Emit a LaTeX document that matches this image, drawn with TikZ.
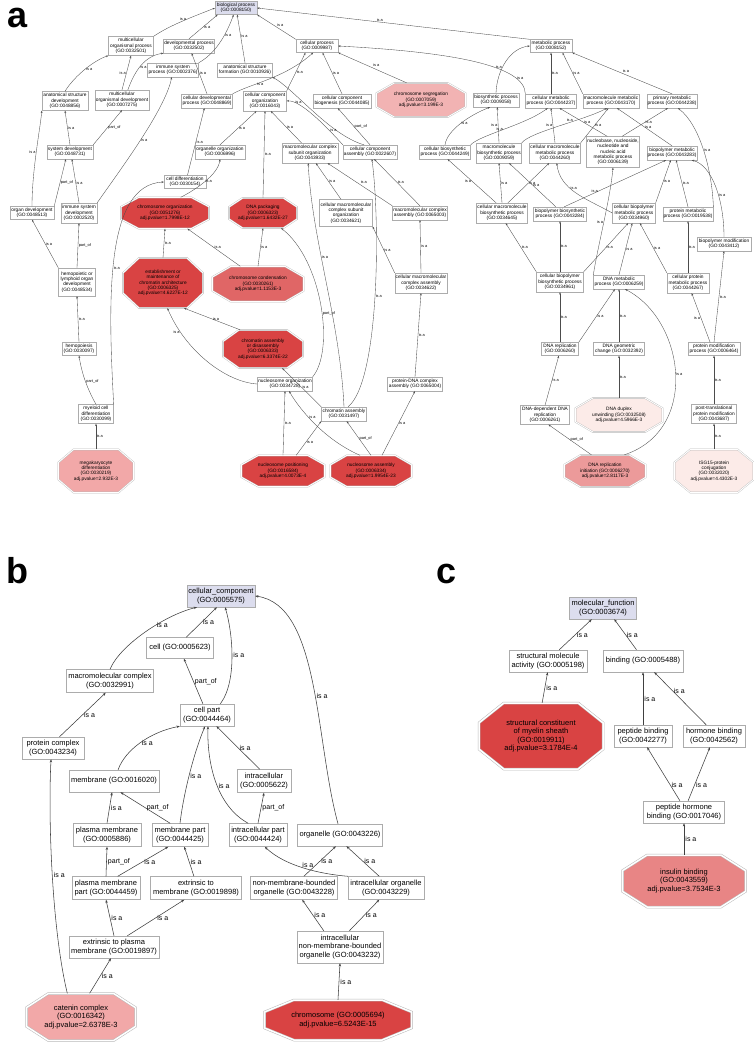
\documentclass[tikz,border=0pt]{standalone}
\usepackage{fontspec}
\setmainfont{Liberation Sans}
\usetikzlibrary{arrows.meta}
\definecolor{lav}{HTML}{DCDDEE}
\definecolor{redA}{HTML}{D94343}
\definecolor{redB}{HTML}{E06666}
\definecolor{pinkA}{HTML}{F2B3B3}
\definecolor{pinkB}{HTML}{EC9A9A}
\definecolor{pinkC}{HTML}{FCEBE8}
\definecolor{pinkD}{HTML}{F2A8A8}
\definecolor{pinkE}{HTML}{E88585}
\tikzset{
 abox/.style={draw=gray!65, fill=white, line width=0.35pt, align=center, inner sep=0.8pt, font=\fontsize{4.8}{5.3}\selectfont},
 aroot/.style={abox, fill=lav},
 aoct/.style={align=center, inner sep=0pt, font=\fontsize{4.8}{5.3}\selectfont},
 octa/.style={draw=gray!55, line width=0.35pt, double=white, double distance=0.9pt},
 bbox/.style={draw=gray!65, fill=white, line width=0.45pt, align=center, inner sep=1pt, font=\fontsize{7.5}{8.5}\selectfont},
 broot/.style={bbox, fill=lav},
 boct/.style={align=center, inner sep=0pt, font=\fontsize{7.5}{8.5}\selectfont},
 octb/.style={draw=gray!55, line width=0.5pt, double=white, double distance=1.5pt},
 ae/.style={draw=black!70, line width=0.35pt, -{Stealth[length=2.4pt,width=1.8pt]}},
 be/.style={draw=black!75, line width=0.55pt, -{Stealth[length=3.2pt,width=2.4pt]}},
 al/.style={font=\fontsize{3.9}{4}\selectfont, inner sep=0.6pt},
 bl/.style={font=\fontsize{7}{7}\selectfont, inner sep=1.2pt},
 plab/.style={font=\fontsize{36}{36}\selectfont\bfseries, inner sep=0pt}
}
\newcommand\ABox[6]{\node[abox,minimum width=#4pt,minimum height=#5pt] (#1) at (#2,#3) {#6};}
\newcommand\BBox[6]{\node[bbox,minimum width=#4pt,minimum height=#5pt] (#1) at (#2,#3) {#6};}
\newcommand\AOct[7]{%
 \path[octa,fill=#6] ({#2-0.3*#4},{#3-0.5*#5}) -- ({#2+0.3*#4},{#3-0.5*#5}) -- ({#2+0.5*#4},{#3-0.2*#5}) -- ({#2+0.5*#4},{#3+0.2*#5}) -- ({#2+0.3*#4},{#3+0.5*#5}) -- ({#2-0.3*#4},{#3+0.5*#5}) -- ({#2-0.5*#4},{#3+0.2*#5}) -- ({#2-0.5*#4},{#3-0.2*#5}) -- cycle;
 \node[aoct,minimum width=#4pt,minimum height=#5pt] (#1) at (#2,#3) {#7};}
\newcommand\BOct[7]{%
 \path[octb,fill=#6] ({#2-0.3*#4},{#3-0.5*#5}) -- ({#2+0.3*#4},{#3-0.5*#5}) -- ({#2+0.5*#4},{#3-0.2*#5}) -- ({#2+0.5*#4},{#3+0.2*#5}) -- ({#2+0.3*#4},{#3+0.5*#5}) -- ({#2-0.3*#4},{#3+0.5*#5}) -- ({#2-0.5*#4},{#3+0.2*#5}) -- ({#2-0.5*#4},{#3-0.2*#5}) -- cycle;
 \node[boct,minimum width=#4pt,minimum height=#5pt] (#1) at (#2,#3) {#7};}
\begin{document}
\begin{tikzpicture}[x=1pt,y=-1pt]
\useasboundingbox (0,0) rectangle (754,1050);
\fill[white] (0,0) rectangle (754,1050);
% ---------------- panel labels
\node[plab] (la) at (18,18) {a};
\node[plab] (lb) at (17,571) {b};
\node[plab] (lc) at (447,574) {c};
% ---------------- panel a nodes
\node[aroot,minimum width=42pt,minimum height=13pt] (bp) at (236,8) {biological process\\(GO:0008150)};
\ABox{mop}{131}{46}{45}{19}{multicellular\\organismal process\\(GO:0032501)}
\ABox{dp}{189}{46}{51}{14}{developmental process\\(GO:0032502)}
\ABox{isp}{173}{70}{51}{14}{immune system\\process (GO:0002376)}
\ABox{asf}{245}{70}{55}{14}{anatomical structure\\formation (GO:0010926)}
\ABox{cp}{317}{46}{42}{13}{cellular process\\(GO:0009987)}
\ABox{mp}{551}{46}{42}{13}{metabolic process\\(GO:0008152)}
\ABox{asd}{65}{101}{46}{19}{anatomical structure\\development\\(GO:0048856)}
\ABox{mod}{122}{100}{54}{20}{multicellular\\organismal development\\(GO:0007275)}
\ABox{cdp}{207}{101}{51}{14}{cellular developmental\\process (GO:0048869)}
\ABox{cco}{265}{101}{43}{20}{cellular component\\organization\\(GO:0016043)}
\ABox{ccb}{342}{101}{58}{14}{cellular component\\biogenesis (GO:0044085)}
\AOct{cs}{421}{100}{89}{34}{pinkA}{chromosome segregation\\(GO:0007059)\\adj.pvalue=3.199E-3}
\ABox{bios}{496}{100}{46}{14}{biosynthetic process\\(GO:0009058)}
\ABox{cmp}{551}{101}{51}{14}{cellular metabolic\\process (GO:0044237)}
\ABox{mmp}{611}{101}{56}{14}{macromolecule metabolic\\process (GO:0043170)}
\ABox{pmp}{672}{101}{50}{14}{primary metabolic\\process (GO:0044238)}
\ABox{sd}{70}{152}{46}{14}{system development\\(GO:0048731)}
\ABox{oo}{220}{152}{50}{14}{organelle organization\\(GO:0006996)}
\ABox{mcso}{310}{153}{56}{20}{macromolecular complex\\subunit organization\\(GO:0043933)}
\ABox{cca}{370}{152}{54}{14}{cellular component\\assembly (GO:0022607)}
\ABox{cbp}{445}{152}{51}{14}{cellular biosynthetic\\process (GO:0044249)}
\ABox{mbp}{499}{153}{44}{20}{macromolecule\\biosynthetic process\\(GO:0009059)}
\ABox{cmmp}{555}{153}{51}{20}{cellular macromolecule\\metabolic process\\(GO:0044260)}
\ABox{nnna}{613}{152}{53}{31}{nucleobase, nucleoside,\\nucleotide and\\nucleic acid\\metabolic process\\(GO:0006139)}
\ABox{bpmp}{672}{153}{50}{14}{biopolymer metabolic\\process (GO:0043283)}
\ABox{cd}{185}{182}{42}{13}{cell differentiation\\(GO:0030154)}
\ABox{od}{32}{213}{44}{13}{organ development\\(GO:0048513)}
\ABox{isd}{79}{213}{36}{20}{immune system\\development\\(GO:0002520)}
\AOct{co}{165}{213}{88}{31}{redA}{chromosome organization\\(GO:0051276)\\adj.pvalue=1.7998E-12}
\AOct{dnap}{263}{213}{68}{30}{redA}{DNA packaging\\(GO:0006323)\\adj.pvalue=1.6432E-27}
\ABox{cmcso}{346}{213}{53}{27}{cellular macromolecular\\complex subunit\\organization\\(GO:0034621)}
\ABox{mca}{420}{213}{55}{14}{macromolecular complex\\assembly (GO:0065003)}
\ABox{cmbp}{502}{213}{50}{20}{cellular macromolecule\\biosynthetic process\\(GO:0034645)}
\ABox{bpbp}{560}{214}{53}{14}{biopolymer biosynthetic\\process (GO:0043284)}
\ABox{cbpmp}{634}{213}{43}{20}{cellular biopolymer\\metabolic process\\(GO:0034960)}
\ABox{prmp}{688}{214}{50}{14}{protein metabolic\\process (GO:0019538)}
\ABox{bm}{724}{244}{54}{14}{biopolymer modification\\(GO:0043412)}
\AOct{emca}{163}{283}{80}{50}{redA}{establishment or\\maintenance of\\chromatin architecture\\(GO:0006325)\\adj.pvalue=4.6227E-12}
\AOct{ccond}{258}{284}{91}{35}{redB}{chromosome condensation\\(GO:0030261)\\adj.pvalue=1.1153E-3}
\ABox{hlod}{77}{282}{37}{28}{hemopoietic or\\lymphoid organ\\development\\(GO:0048534)}
\ABox{cmca}{421}{283}{52}{20}{cellular macromolecular\\complex assembly\\(GO:0034622)}
\ABox{cbbp}{560}{282}{47}{20}{cellular biopolymer\\biosynthetic process\\(GO:0034961)}
\ABox{dnamp}{619}{282}{51}{14}{DNA metabolic\\process (GO:0006259)}
\ABox{cpmp}{688}{283}{42}{20}{cellular protein\\metabolic process\\(GO:0044267)}
\AOct{cad}{263}{349}{80}{38}{redA}{chromatin assembly\\or disassembly\\(GO:0006333)\\adj.pvalue=6.3374E-22}
\ABox{hem}{79}{349}{34}{13}{hemopoiesis\\(GO:0030097)}
\ABox{dnar}{560}{349}{37}{13}{DNA replication\\(GO:0006260)}
\ABox{dnagc}{619}{349}{51}{13}{DNA geometric\\change (GO:0032392)}
\ABox{prmod}{714}{349}{52}{13}{protein modification\\process (GO:0006464)}
\ABox{no}{285}{384}{55}{14}{nucleosome organization\\(GO:0034728)}
\ABox{pdca}{415}{384}{55}{14}{protein-DNA complex\\assembly (GO:0065004)}
\ABox{mcd}{96}{414}{35}{19}{myeloid cell\\differentiation\\(GO:0030099)}
\ABox{ca}{344}{414}{45}{14}{chromatin assembly\\(GO:0031497)}
\ABox{ddr}{545}{415}{49}{19}{DNA-dependent DNA\\replication\\(GO:0006261)}
\AOct{ddu}{619}{415}{87}{34}{pinkC}{DNA duplex\\unwinding (GO:0032508)\\adj.pvalue=4.5966E-3}
\ABox{ptpm}{714}{414}{45}{19}{post-translational\\protein modification\\(GO:0043687)}
\AOct{mkd}{96}{471}{75}{43}{pinkD}{megakaryocyte\\differentiation\\(GO:0030219)\\adj.pvalue=2.932E-3}
\AOct{np}{283}{471}{83}{31}{redA}{nucleosome positioning\\(GO:0016584)\\adj.pvalue=4.0073E-4}
\AOct{na}{371}{471}{81}{31}{redA}{nucleosome assembly\\(GO:0006334)\\adj.pvalue=1.9954E-23}
\AOct{dri}{605}{471}{81}{32}{pinkB}{DNA replication\\initiation (GO:0006270)\\adj.pvalue=2.8117E-3}
\AOct{isg}{714}{471}{79}{43}{pinkC}{ISG15-protein\\conjugation\\(GO:0032020)\\adj.pvalue=4.4302E-3}
% ---------------- panel a edges
\draw[ae] (mop.north east) .. controls (170,25) and (195,16) .. (bp.west) node[al,pos=.5,above]{is a};
\draw[ae] (dp.north) -- (bp.-160) node[al,pos=.5,right]{is a};
\draw[ae] (isp.north east) .. controls (218,52) and (228,30) .. (bp.-110) node[al,pos=.6,right]{is a};
\draw[ae] (asf.north) -- (bp.-80) node[al,pos=.55,right]{is a};
\draw[ae] (cp.north west) -- (bp.south east) node[al,pos=.5,above right]{is a};
\draw[ae] (mp.north west) -- (bp.east) node[al,pos=.55,above]{is a};
\draw[ae] (asd.north) .. controls (75,75) and (95,60) .. (mop.south west) node[al,pos=.5,right]{is a};
\draw[ae] (mod.north) -- (mop.south) node[al,pos=.5,left]{is a};
\draw[ae] (mod.60) .. controls (135,70) and (145,56) .. (dp.south west) node[al,pos=.45,right]{is a};
\draw[ae] (cdp.north) -- (dp.-70) node[al,pos=.5,right]{is a};
\draw[ae] (sd.north) -- (asd.south) node[al,pos=.5,right]{is a};
\draw[ae] (sd.north east) -- (mod.south) node[al,pos=.5,right]{part\_of};
\draw[ae] (od.north) .. controls (32,170) and (40,130) .. (asd.south west) node[al,pos=.5,left]{is a};
\draw[ae] (od.north east) -- (sd.-120) node[al,pos=.5,right]{part\_of};
\draw[ae] (isd.north) -- (sd.-75) node[al,pos=.45,right]{is a};
\draw[ae] (isd.north east) .. controls (120,170) and (165,110) .. (isp.-100) node[al,pos=.5,right]{is a};
\draw[ae] (hlod.north west) -- (od.south) node[al,pos=.5,right]{is a};
\draw[ae] (hlod.north) -- (isd.south) node[al,pos=.5,right]{part\_of};
\draw[ae] (hem.north) -- (hlod.south) node[al,pos=.5,right]{is a};
\draw[ae] (mcd.north) .. controls (88,390) and (82,375) .. (hem.south) node[al,pos=.5,right]{part\_of};
\draw[ae] (mcd.north east) .. controls (108,300) and (105,185) .. (cd.west) node[al,pos=.45,right]{is a};
\draw[ae] (mkd.north) -- (mcd.south) node[al,pos=.5,right]{is a};
\draw[ae] (cd.70) -- (cdp.-110) node[al,pos=.5,right]{is a};
\draw[ae] (co.45) .. controls (195,190) and (218,175) .. (oo.south) node[al,pos=.5,right]{is a};
\draw[ae] (oo.north) -- (cco.-130) node[al,pos=.5,right]{is a};
\draw[ae] (cco.north east) -- (cp.-150) node[al,pos=.5,right]{is a};
\draw[ae] (cdp.north east) .. controls (250,84) and (285,78) .. (cp.-120) node[al,pos=.4,below]{is a};
\draw[ae] (dnap.north) -- (cco.south) node[al,pos=.5,right]{is a};
\draw[ae] (mcso.130) -- (cco.-60) node[al,pos=.5,right]{is a};
\draw[ae] (ccb.north) -- (cp.-50) node[al,pos=.5,right]{is a};
\draw[ae] (cs.130) -- (cp.south east) node[al,pos=.5,above right]{is a};
\draw[ae] (cca.north) -- (ccb.-120) node[al,pos=.5,right]{part\_of};
\draw[ae] (cca.north west) .. controls (325,125) and (300,100) .. (cco.east) node[al,pos=.75,above]{is a};
\draw[ae] (cca.130) .. controls (330,135) and (295,90) .. (asf.south east) node[al,pos=.3,below]{is a};
\draw[ae] (cmcso.110) -- (mcso.-60) node[al,pos=.5,right]{is a};
\draw[ae] (mca.north west) -- (mcso.-30) node[al,pos=.5,above right]{is a};
\draw[ae] (mca.north) -- (cca.-60) node[al,pos=.5,right]{is a};
\draw[ae] (cmca.north west) -- (cmcso.south east) node[al,pos=.5,right]{is a};
\draw[ae] (cmca.north) -- (mca.south) node[al,pos=.5,right]{is a};
\draw[ae] (pdca.north) -- (cmca.south) node[al,pos=.5,right]{is a};
\draw[ae] (na.55) -- (pdca.south) node[al,pos=.5,right]{is a};
\draw[ae] (ca.60) .. controls (380,380) and (380,220) .. (cca.-75) node[al,pos=.5,right]{is a};
\draw[ae] (ca.north) .. controls (340,320) and (312,240) .. (mcso.-100) node[al,pos=.6,right]{is a};
\draw[ae] (ca.north west) -- (cad.-45) node[al,pos=.5,right]{is a};
\draw[ae] (no.north east) .. controls (335,350) and (322,260) .. (dnap.-40) node[al,pos=.45,right]{part\_of};
\draw[ae] (np.north) -- (no.south) node[al,pos=.5,right]{is a};
\draw[ae] (na.125) .. controls (325,440) and (300,410) .. (no.-60) node[al,pos=.6,right]{is a};
\draw[ae] (np.50) -- (ca.south west) node[al,pos=.4,right]{is a};
\draw[ae] (na.north) -- (ca.-70) node[al,pos=.5,right]{part\_of};
\draw[ae] (emca.north) -- (co.south) node[al,pos=.5,right]{is a};
\draw[ae] (ccond.135) -- (co.-35) node[al,pos=.5,right]{is a};
\draw[ae] (ccond.north) -- (dnap.south) node[al,pos=.5,right]{is a};
\draw[ae] (cad.140) -- (emca.-50) node[al,pos=.5,right]{is a};
\draw[ae] (no.west) .. controls (225,382) and (185,350) .. (emca.-80) node[al,pos=.8,left]{is a};
\draw[ae] (bios.north) .. controls (497,70) and (510,48) .. (mp.west) node[al,pos=.4,left]{is a};
\draw[ae] (cmp.north west) .. controls (525,65) and (450,52) .. (cp.east) node[al,pos=.2,right]{is a};
\draw[ae] (cmp.north) -- (mp.south) node[al,pos=.5,right]{is a};
\draw[ae] (mmp.north west) -- (mp.-30) node[al,pos=.5,right]{is a};
\draw[ae] (pmp.north) -- (mp.south east) node[al,pos=.5,above right]{is a};
\draw[ae] (cbp.north) .. controls (447,130) and (470,115) .. (bios.-130) node[al,pos=.5,right]{is a};
\draw[ae] (cbp.north east) .. controls (480,135) and (525,125) .. (cmp.-115) node[al,pos=.45,above]{is a};
\draw[ae] (mbp.north) -- (bios.-80) node[al,pos=.5,left]{is a};
\draw[ae] (mbp.north east) .. controls (530,132) and (585,120) .. (mmp.-120) node[al,pos=.6,above]{is a};
\draw[ae] (cmmp.north) -- (cmp.south) node[al,pos=.5,left]{is a};
\draw[ae] (cmmp.north east) -- (mmp.-110) node[al,pos=.5,right]{is a};
\draw[ae] (nnna.110) -- (cmp.-40) node[al,pos=.5,right]{is a};
\draw[ae] (nnna.60) -- (pmp.-120) node[al,pos=.5,right]{is a};
\draw[ae] (bpmp.north) -- (mmp.-50) node[al,pos=.5,right]{is a};
\draw[ae] (prmp.north east) .. controls (712,170) and (700,125) .. (pmp.-50) node[al,pos=.5,right]{is a};
\draw[ae] (cmbp.120) -- (cbp.-70) node[al,pos=.5,left]{is a};
\draw[ae] (cmbp.north) -- (mbp.south) node[al,pos=.5,right]{is a};
\draw[ae] (cmbp.60) -- (cmmp.-120) node[al,pos=.5,right]{is a};
\draw[ae] (bpbp.120) -- (mbp.-45) node[al,pos=.5,right]{is a};
\draw[ae] (bpbp.60) -- (bpmp.-130) node[al,pos=.3,above]{is a};
\draw[ae] (cbpmp.west) .. controls (585,198) and (560,190) .. (cmmp.-80) node[al,pos=.6,right]{is a};
\draw[ae] (cbpmp.north east) -- (bpmp.-100) node[al,pos=.5,right]{is a};
\draw[ae] (dnamp.north west) .. controls (598,245) and (610,200) .. (nnna.south) node[al,pos=.5,left]{is a};
\draw[ae] (prmp.north) -- (bpmp.-60) node[al,pos=.5,right]{is a};
\draw[ae] (bm.north) .. controls (724,200) and (712,165) .. (bpmp.-20) node[al,pos=.4,right]{is a};
\draw[ae] (cbbp.north west) -- (cmbp.-70) node[al,pos=.5,right]{is a};
\draw[ae] (cbbp.north) -- (bpbp.south) node[al,pos=.5,right]{is a};
\draw[ae] (cbbp.north east) -- (cbpmp.-120) node[al,pos=.5,right]{is a};
\draw[ae] (dnamp.north) -- (cbpmp.-100) node[al,pos=.5,right]{is a};
\draw[ae] (cpmp.north west) -- (cbpmp.-60) node[al,pos=.5,right]{is a};
\draw[ae] (cpmp.north) -- (prmp.south) node[al,pos=.5,right]{is a};
\draw[ae] (prmod.north) -- (bm.south) node[al,pos=.5,right]{is a};
\draw[ae] (prmod.120) -- (cpmp.-70) node[al,pos=.5,left]{is a};
\draw[ae] (dnar.north) -- (cbbp.south) node[al,pos=.5,right]{is a};
\draw[ae] (dnar.north east) -- (dnamp.-120) node[al,pos=.5,right]{is a};
\draw[ae] (dnagc.north) -- (dnamp.south) node[al,pos=.5,right]{is a};
\draw[ae] (dri.40) .. controls (700,430) and (685,320) .. (dnamp.-50) node[al,pos=.5,right]{is a};
\draw[ae] (ddr.north) -- (dnar.-100) node[al,pos=.5,right]{is a};
\draw[ae] (ddu.north) -- (dnagc.south) node[al,pos=.5,right]{is a};
\draw[ae] (ptpm.north) -- (prmod.south) node[al,pos=.5,right]{is a};
\draw[ae] (dri.130) -- (ddr.-70) node[al,pos=.5,right]{part\_of};
\draw[ae] (isg.north) -- (ptpm.south) node[al,pos=.5,right]{is a};
% ---------------- panel b nodes
\node[broot,minimum width=68pt,minimum height=22pt] (ccomp) at (221,596) {cellular\_component\\(GO:0005575)};
\BBox{cell}{180}{648}{67}{21}{cell (GO:0005623)}
\BBox{mcx}{110}{681}{87}{23}{macromolecular complex\\(GO:0032991)}
\BBox{cpart}{207}{715}{54}{22}{cell part\\(GO:0044464)}
\BBox{pcx}{53}{748}{62}{22}{protein complex\\(GO:0043234)}
\BBox{mem}{114}{781}{90}{22}{membrane (GO:0016020)}
\BBox{ic}{264}{781}{54}{23}{intracellular\\(GO:0005622)}
\BBox{pm}{107}{835}{68}{23}{plasma membrane\\(GO:0005886)}
\BBox{mpart}{180}{835}{56}{23}{membrane part\\(GO:0044425)}
\BBox{icp}{258}{835}{58}{23}{intracellular part\\(GO:0044424)}
\BBox{org}{340}{835}{85}{22}{organelle (GO:0043226)}
\BBox{pmp2}{106}{888}{68}{23}{plasma membrane\\part (GO:0044459)}
\BBox{etm}{196}{888}{91}{23}{extrinsic to\\membrane (GO:0019898)}
\BBox{nmbo}{294}{888}{87}{23}{non-membrane-bounded\\organelle (GO:0043228)}
\BBox{ico}{386}{888}{76}{23}{intracellular organelle\\(GO:0043229)}
\BBox{etpm}{114}{947}{90}{22}{extrinsic to plasma\\membrane (GO:0019897)}
\BBox{inmbo}{340}{947}{86}{32}{intracellular\\non-membrane-bounded\\organelle (GO:0043232)}
\BOct{cat}{81}{1017}{109}{47}{pinkD}{catenin complex\\(GO:0016342)\\adj.pvalue=2.6378E-3}
\BOct{chr}{338}{1020}{147}{40}{redA}{chromosome (GO:0005694)\\adj.pvalue=6.5243E-15}
% ---------------- panel b edges
\draw[be] (cell.60) -- (ccomp.-110) node[bl,pos=.5,right]{is a};
\draw[be] (mcx.north) .. controls (120,645) and (165,615) .. (ccomp.-155) node[bl,pos=.6,right]{is a};
\draw[be] (cpart.40) .. controls (238,680) and (232,630) .. (ccomp.-70) node[bl,pos=.5,right]{is a};
\draw[be] (cpart.110) -- (cell.-70) node[bl,pos=.5,right]{part\_of};
\draw[be] (org.100) .. controls (315,740) and (320,605) .. (ccomp.east) node[bl,pos=.45,right]{is a};
\draw[be] (pcx.60) -- (mcx.-110) node[bl,pos=.5,right]{is a};
\draw[be] (mem.70) .. controls (125,750) and (150,732) .. (cpart.south west) node[bl,pos=.5,right]{is a};
\draw[be] (mpart.north) .. controls (184,790) and (195,750) .. (cpart.-100) node[bl,pos=.45,right]{is a};
\draw[be] (icp.130) .. controls (215,805) and (207,760) .. (cpart.-85) node[bl,pos=.45,right]{is a};
\draw[be] (ic.110) -- (cpart.-50) node[bl,pos=.5,right]{is a};
\draw[be] (pm.north) -- (mem.-100) node[bl,pos=.5,right]{is a};
\draw[be] (mpart.130) -- (mem.-60) node[bl,pos=.5,right]{part\_of};
\draw[be] (icp.north) -- (ic.south) node[bl,pos=.5,right]{part\_of};
\draw[be] (pmp2.north) -- (pm.south) node[bl,pos=.5,right]{part\_of};
\draw[be] (pmp2.45) -- (mpart.-135) node[bl,pos=.5,right]{is a};
\draw[be] (etm.100) -- (mpart.-70) node[bl,pos=.5,right]{is a};
\draw[be] (nmbo.50) -- (org.-110) node[bl,pos=.5,right]{is a};
\draw[be] (ico.120) -- (org.-60) node[bl,pos=.5,right]{is a};
\draw[be] (ico.north west) .. controls (320,874) and (285,866) .. (icp.-60) node[bl,pos=.45,above]{is a};
\draw[be] (etpm.north) -- (pmp2.south) node[bl,pos=.5,right]{is a};
\draw[be] (etpm.40) -- (etm.-135) node[bl,pos=.5,right]{is a};
\draw[be] (inmbo.135) -- (nmbo.-55) node[bl,pos=.5,right]{is a};
\draw[be] (inmbo.60) -- (ico.-120) node[bl,pos=.5,right]{is a};
\draw[be] (cat.70) -- (etpm.-105) node[bl,pos=.5,right]{is a};
\draw[be] (cat.120) .. controls (52,930) and (48,820) .. (pcx.-100) node[bl,pos=.5,right]{is a};
\draw[be] (chr.north) -- (inmbo.south) node[bl,pos=.5,right]{is a};
% ---------------- panel c nodes
\node[broot,minimum width=67pt,minimum height=22pt] (mf) at (603,608) {molecular\_function\\(GO:0003674)};
\BBox{sma}{548}{661}{78}{22}{structural molecule\\activity (GO:0005198)}
\BBox{bind}{643}{661}{80}{22}{binding (GO:0005488)}
\BOct{myel}{541}{736}{124}{66}{redA}{structural constituent\\of myelin sheath\\(GO:0019911)\\adj.pvalue=3.1784E-4}
\BBox{pb}{643}{736}{58}{22}{peptide binding\\(GO:0042277)}
\BBox{hb}{714}{736}{62}{22}{hormone binding\\(GO:0042562)}
\BBox{phb}{684}{812}{81}{22}{peptide hormone\\binding (GO:0017046)}
\BOct{ins}{684}{881}{123}{52}{pinkE}{insulin binding\\(GO:0043559)\\adj.pvalue=3.7534E-3}
% ---------------- panel c edges
\draw[be] (sma.45) -- (mf.-135) node[bl,pos=.5,right]{is a};
\draw[be] (bind.120) -- (mf.-45) node[bl,pos=.5,right]{is a};
\draw[be] (myel.88) -- (sma.-92) node[bl,pos=.5,right]{is a};
\draw[be] (pb.north) -- (bind.south) node[bl,pos=.5,right]{is a};
\draw[be] (hb.125) -- (bind.-45) node[bl,pos=.65,right]{is a};
\draw[be] (phb.110) -- (pb.-70) node[bl,pos=.3,right]{is a};
\draw[be] (phb.70) -- (hb.-110) node[bl,pos=.3,right]{is a};
\draw[be] (ins.north) -- (phb.south) node[bl,pos=.5,right]{is a};
\end{tikzpicture}
\end{document}
